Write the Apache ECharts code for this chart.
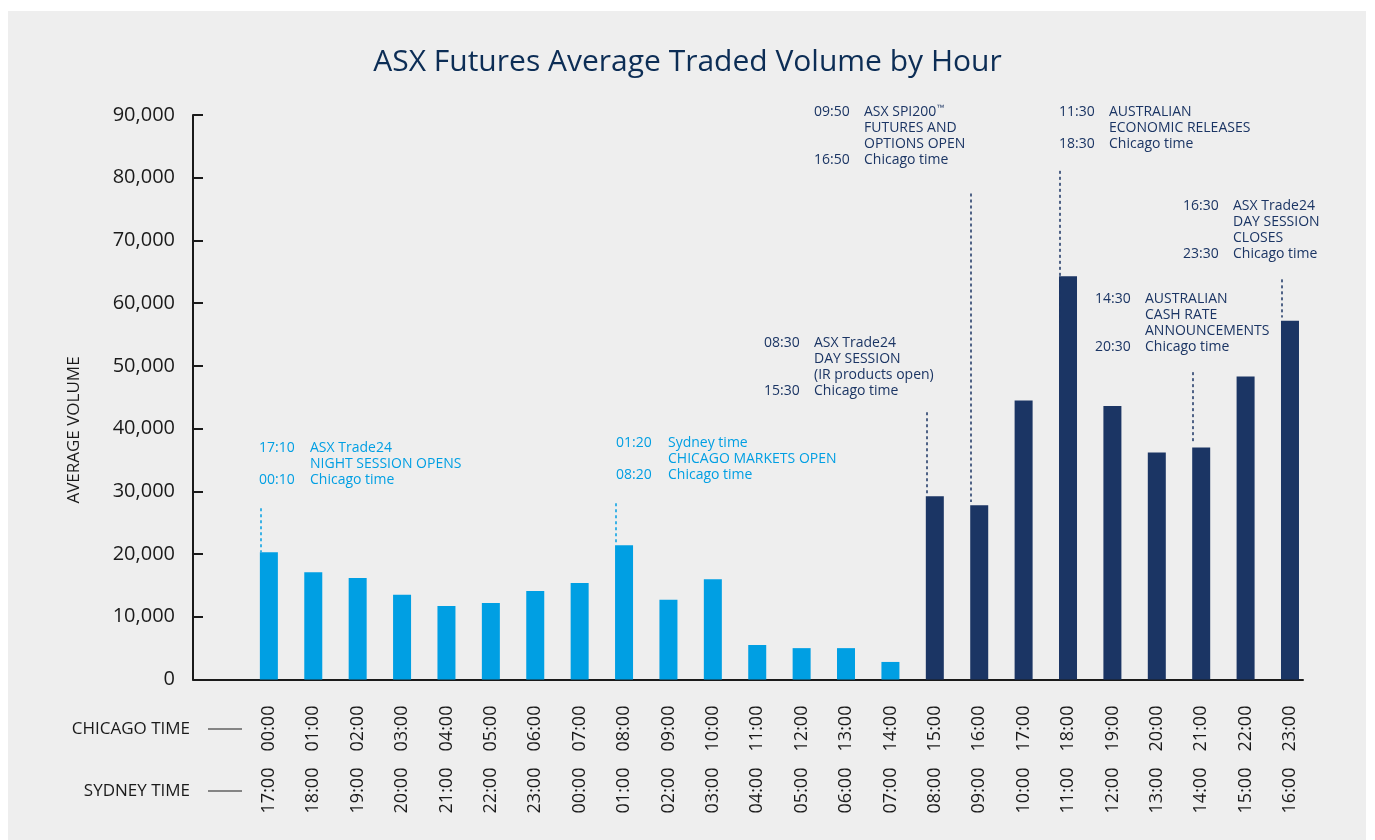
<!DOCTYPE html>
<html>
<head>
<meta charset="utf-8">
<title>ASX Futures Average Traded Volume by Hour</title>
<script src="https://cdn.jsdelivr.net/npm/echarts@6/dist/echarts.min.js"></script>
<style>
    html, body { margin: 0; padding: 0; background: #ffffff; }
    #panel { position: absolute; left: 8px; top: 11px; width: 1358px; height: 829px; background: #eeeeee; }
    #chart { position: absolute; left: 0; top: 0; width: 1375px; height: 840px; }
</style>
</head>
<body>
<div id="panel"></div>
<div id="chart"></div>
<script>
// hours along the axis (Chicago time on top row, Sydney time below)
const chicagoHours = ['00:00', '01:00', '02:00', '03:00', '04:00', '05:00', '06:00', '07:00',
    '08:00', '09:00', '10:00', '11:00', '12:00', '13:00', '14:00', '15:00',
    '16:00', '17:00', '18:00', '19:00', '20:00', '21:00', '22:00', '23:00'];
const sydneyHours = ['17:00', '18:00', '19:00', '20:00', '21:00', '22:00', '23:00', '00:00',
    '01:00', '02:00', '03:00', '04:00', '05:00', '06:00', '07:00', '08:00',
    '09:00', '10:00', '11:00', '12:00', '13:00', '14:00', '15:00', '16:00'];
// average traded volume per hour
const volume = [20300, 17100, 16200, 13500, 11700, 12200, 14100, 15400,
    21400, 12700, 16000, 5500, 5000, 5000, 2800, 29200,
    27800, 44500, 64300, 43600, 36200, 37000, 48300, 57200];
const daySessionStart = 15; // first bar of the day session (navy)

// event markers: hour index, top of dotted line, bottom of dotted line
const eventHour = [0, 8, 15, 16, 18, 21, 23];
const eventTop = [27300, 28100, 42600, 77500, 81100, 49000, 63800];
const eventBottom = [20300, 21400, 29200, 28300, 56900, 37700, 57700];

// annotation texts: Sydney time, Chicago time, description lines
const noteSydney = ['17:10', '01:20', '08:30', '09:50', '11:30', '16:30', '14:30'];
const noteChicago = ['00:10', '08:20', '15:30', '16:50', '18:30', '23:30', '20:30'];
const noteLines = [
    ['ASX Trade24', 'NIGHT SESSION OPENS', 'Chicago time'],
    ['Sydney time', 'CHICAGO MARKETS OPEN', 'Chicago time'],
    ['ASX Trade24', 'DAY SESSION', '(IR products open)', 'Chicago time'],
    ['ASX SPI200{tm|\u2122}', 'FUTURES AND', 'OPTIONS OPEN', 'Chicago time'],
    ['AUSTRALIAN', 'ECONOMIC RELEASES', 'Chicago time'],
    ['ASX Trade24', 'DAY SESSION', 'CLOSES', 'Chicago time'],
    ['AUSTRALIAN', 'CASH RATE', 'ANNOUNCEMENTS', 'Chicago time']
];

const CYAN = '#009fe3';
const NAVY = '#1b3564';
const INK = '#1a1a1a';
const BASE_FONT = "'Open Sans', 'Noto Sans', sans-serif";

// where each annotation block sits (left of time column, left of text, first line y)
const noteLayout = [
    [259, 310, 448], [616, 668, 443], [764, 814, 343], [814, 864, 112],
    [1059, 1109, 112], [1183, 1233, 206], [1095, 1145, 299]
];
const noteColor = (i) => (eventHour[i] >= daySessionStart ? NAVY : CYAN);

const graphics = [];
noteLines.forEach((lines, i) => {
    const [tx, dx, y] = noteLayout[i];
    const fill = noteColor(i);
    const timeText = noteSydney[i] + '\n'.repeat(lines.length - 1) + noteChicago[i];
    graphics.push({
        type: 'text', x: tx, y: y - 8,
        style: { text: timeText, fill, fontSize: 14, fontFamily: BASE_FONT, lineHeight: 16, verticalAlign: 'top' }
    });
    graphics.push({
        type: 'text', x: dx, y: y - 8,
        style: {
            text: lines.join('\n'), fill, fontSize: 14, fontFamily: BASE_FONT, lineHeight: 16, verticalAlign: 'top',
            rich: { tm: { fontSize: 8, fill, lineHeight: 16, verticalAlign: 'top', padding: [0, 0, 6, 0] } }
        }
    });
});
// axis caption and row captions
graphics.push({
    type: 'text', x: 74, y: 430, rotation: Math.PI / 2,
    style: { text: 'AVERAGE VOLUME', fill: INK, font: '17px ' + BASE_FONT, align: 'center', verticalAlign: 'middle' }
});
[['CHICAGO TIME', 729], ['SYDNEY TIME', 791]].forEach(([label, y]) => {
    graphics.push({
        type: 'text', x: 190, y,
        style: { text: label, fill: INK, font: '17px ' + BASE_FONT, align: 'right', verticalAlign: 'middle' }
    });
    graphics.push({
        type: 'line', shape: { x1: 208, y1: y, x2: 242, y2: y },
        style: { stroke: INK, lineWidth: 1 }
    });
});

const hourIdx = chicagoHours.map((h, i) => i);
const xMin = -1.709;
const xMax = 23.293;

function timeAxis(labels, margin, showLine) {
    return {
        type: 'value',
        position: 'bottom',
        min: xMin,
        max: xMax,
        axisLine: { show: showLine, onZero: false, lineStyle: { color: INK, width: 2 } },
        axisTick: { show: false },
        splitLine: { show: false },
        axisLabel: {
            customValues: hourIdx,
            formatter: (v) => labels[Math.round(v)] || '',
            rotate: 90,
            align: 'center',
            verticalAlign: 'middle',
            margin,
            fontSize: 18,
            fontFamily: BASE_FONT,
            color: INK
        }
    };
}

const chart = echarts.init(document.getElementById('chart'));
chart.setOption({
    backgroundColor: 'transparent',
    animation: false,
    title: {
        text: 'ASX Futures Average Traded Volume by Hour',
        left: 'center',
        top: 42,
        textStyle: { color: '#0c2d55', fontSize: 30, fontWeight: 'normal', fontFamily: BASE_FONT }
    },
    grid: { left: 193, right: 72, top: 115, bottom: 160.5, containLabel: false, outerBoundsMode: 'none' },
    xAxis: [
        timeAxis(chicagoHours, 49, true),
        timeAxis(sydneyHours, 111, false)
    ],
    yAxis: {
        type: 'value',
        min: 0,
        max: 90000,
        interval: 10000,
        axisLine: { show: true, onZero: false, lineStyle: { color: INK, width: 2 } },
        axisTick: { show: true, inside: true, length: 10, lineStyle: { color: INK, width: 2 } },
        splitLine: { show: false },
        axisLabel: {
            formatter: (v) => v.toLocaleString('en-US'),
            fontSize: 20,
            fontFamily: BASE_FONT,
            color: INK,
            margin: 18
        }
    },
    series: [{
        type: 'bar',
        xAxisIndex: 0,
        barWidth: 18,
        data: volume.map((v, i) => ({
            value: [i, v],
            itemStyle: { color: i >= daySessionStart ? NAVY : CYAN }
        })),
        markLine: {
            silent: true,
            symbol: 'none',
            label: { show: false },
            data: eventHour.map((h, i) => [
                { coord: [h - 0.18, eventTop[i]], lineStyle: { color: noteColor(i), type: [3, 3], width: 1.5 } },
                { coord: [h - 0.18, eventBottom[i]] }
            ])
        }
    }],
    graphic: graphics
});
</script>
</body>
</html>
